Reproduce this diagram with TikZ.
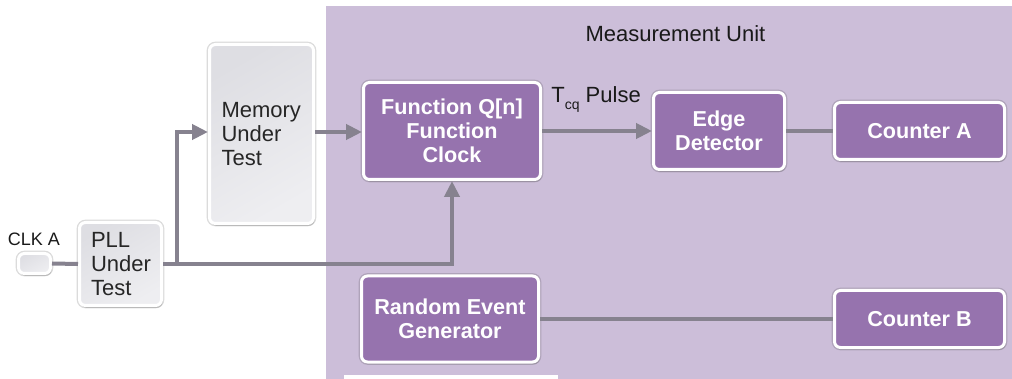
\documentclass[tikz,border=0pt]{standalone}
\usepackage{fontspec}
\setmainfont{Liberation Sans}
\usetikzlibrary{arrows.meta,shadows}
\definecolor{bgpurple}{HTML}{CCBED9}
\definecolor{boxpurple}{HTML}{9673AE}
\definecolor{linegrey}{HTML}{86828F}
\definecolor{greyA}{HTML}{DEDEE3}
\definecolor{greyB}{HTML}{EEEEF1}
\tikzset{
  boxbase/.style={draw=white, line width=1.5pt, rounded corners=3pt,
    drop shadow={opacity=0.3, shadow xshift=0.6pt, shadow yshift=-1.2pt},
    preaction={draw=black, draw opacity=0.14, line width=2.8pt}},
  pbox/.style={boxbase, fill=boxpurple, text=white, align=center, inner sep=0pt,
    font=\fontsize{10.8}{12}\selectfont\bfseries},
  gbox/.style={boxbase, top color=greyA, bottom color=greyB, shading angle=30,
    text=black!85, align=left, font=\fontsize{11}{11.8}\selectfont},
  conn/.style={draw=linegrey, line width=2pt},
  arr/.style={conn, -{Triangle[length=8pt,width=7.5pt]}},
  lbl/.style={text=black!90, inner sep=0pt}
}
\begin{document}
\begin{tikzpicture}[x=0.5pt,y=-0.5pt]
\useasboundingbox (0,0) rectangle (1012,379);
% measurement unit background
\fill[bgpurple] (326,6) rectangle (1012,379);
\fill[white] (344,375) rectangle (558,379);
\node[lbl, font=\fontsize{11}{13}\selectfont] (mu) at (675.5,34) {Measurement Unit};

% left side
\node[lbl, font=\fontsize{9}{10}\selectfont] (clklbl) at (34,239) {CLK A};
\node[gbox, minimum width=16pt, minimum height=10pt, inner sep=0pt] (clk) at (34.5,263.5) {};
\node[gbox, minimum width=41pt, minimum height=41.5pt, inner xsep=5.75pt, inner ysep=0pt, text width=29.5pt] (pll) at (120.5,264) {PLL\\Under\\Test};
\node[gbox, minimum width=52pt, minimum height=89.5pt, inner xsep=6pt, inner ysep=0pt, text width=40pt] (mem) at (261.5,134) {Memory\\Under\\Test};

% purple boxes
\node[pbox, minimum width=88.5pt, minimum height=48.5pt] (fun) at (452,131) {Function Q[n]\\Function\\Clock};
\node[pbox, minimum width=65.5pt, minimum height=38.5pt] (edge) at (719,131) {Edge\\Detector};
\node[pbox, minimum width=85pt, minimum height=28.5pt] (cntA) at (919.5,131) {Counter A};
\node[pbox, minimum width=88.5pt, minimum height=43pt] (reg) at (450,319) {Random Event\\Generator};
\node[pbox, minimum width=85pt, minimum height=28.5pt] (cntB) at (919.5,319) {Counter B};

\node[lbl, font=\fontsize{11}{13}\selectfont, anchor=base west] (tcq) at (551,103) {T\raisebox{-3.5pt}{\fontsize{7}{8}\selectfont cq} Pulse};

% connectors
\coordinate (j1) at (177,264);
\coordinate (j2) at (452,264);
\draw[conn] (clk.east) -- (pll.west);
\draw[conn] (pll.east) -- (j1);
\draw[arr] (j1) |- (mem.west |- 0,132);
\draw[arr] (j1) -- (j2) -- (fun.south);
\draw[arr] (mem.east |- 0,132) -- (fun.west |- 0,132);
\draw[arr] (fun.east) -- (edge.west);
\draw[conn] (edge.east) -- (cntA.west);
\draw[conn] (reg.east) -- (cntB.west);
\end{tikzpicture}
\end{document}
